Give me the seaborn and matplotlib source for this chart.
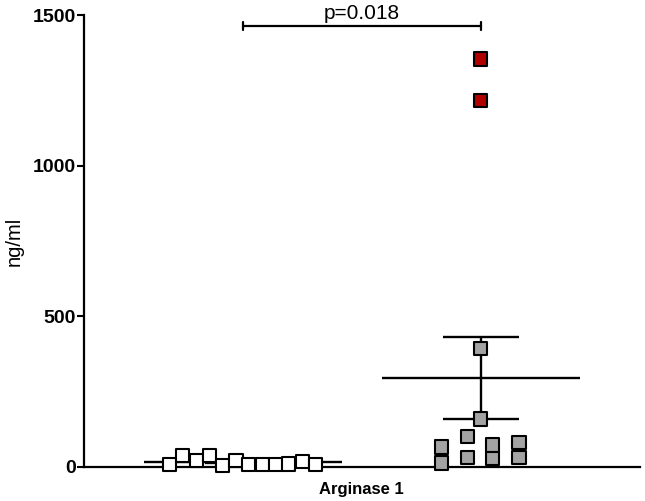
import matplotlib
matplotlib.use("Agg")
import matplotlib.pyplot as plt
import numpy as np
import pandas as pd
import seaborn as sns

# values (ng/ml)
group_names = ["control", "patients"]
control_values = [7, 37, 20, 37, 5, 20, 7, 7, 7, 10, 17, 7]
control_jitter = [-0.307, -0.252, -0.193, -0.139, -0.084, -0.029,
                  0.025, 0.084, 0.139, 0.193, 0.252, 0.307]
patient_values = [66, 13, 100, 30, 394, 159, 73, 27, 80, 30, 1354, 1215]
patient_jitter = [-0.164, -0.164, -0.055, -0.055, 0.0, 0.0,
                  0.05, 0.05, 0.16, 0.16, 0.0, 0.0]
patient_kind = ["gray"] * 10 + ["red"] * 2
p_text = "p=0.018"

sns.set_theme(style="ticks", rc={"text.color": "black", "axes.labelcolor": "black",
                                 "xtick.color": "black", "ytick.color": "black",
                                 "axes.edgecolor": "black"})
plt.rcParams["font.family"] = ["Liberation Sans", "DejaVu Sans"]

rows = []
for v, j in zip(control_values, control_jitter):
    rows.append({"x": 1 + j, "value": v, "kind": "white"})
for v, j, k in zip(patient_values, patient_jitter, patient_kind):
    rows.append({"x": 2 + j, "value": v, "kind": k})
df = pd.DataFrame(rows)

fig = plt.figure(figsize=(6.45, 5.01), dpi=100)
ax = fig.add_axes([0.130, 0.068, 0.862, 0.902])

# mean +/- SEM
for pos, vals in [(1, control_values), (2, patient_values)]:
    arr = np.asarray(vals, dtype=float)
    m = arr.mean()
    se = arr.std(ddof=1) / np.sqrt(len(arr))
    ax.hlines(m, pos - 0.416, pos + 0.416, color="black", lw=1.7, zorder=2)
    ax.vlines(pos, m - se, m + se, color="black", lw=1.7, zorder=2)
    ax.hlines([m - se, m + se], pos - 0.16, pos + 0.16, color="black", lw=1.7, zorder=2)

sns.scatterplot(
    data=df, x="x", y="value", hue="kind",
    palette={"white": "white", "gray": "#a3a3a3", "red": "#b00000"},
    marker="s", s=90, edgecolor="black", linewidth=1.5,
    legend=False, ax=ax, zorder=3, clip_on=False,
)

# significance bracket
yb = 1464
ax.plot([1, 2], [yb, yb], color="black", lw=1.6, clip_on=False)
ax.plot([1, 1], [yb - 14, yb + 14], color="black", lw=1.6, clip_on=False)
ax.plot([2, 2], [yb - 14, yb + 14], color="black", lw=1.6, clip_on=False)
ax.text(1.5, yb + 10, p_text, ha="center", va="bottom", fontsize=15)

ax.set_xlim(0.332, 2.668)
ax.set_ylim(0, 1500)
ax.set_yticks([0, 500, 1000, 1500])
ax.set_xticks([])
for lab in ax.get_yticklabels():
    lab.set_fontweight("bold")
ax.tick_params(axis="y", labelsize=14, width=1.5, length=5, pad=1)
ax.set_xlabel("Arginase 1", fontsize=12, fontweight="bold", labelpad=11)
ax.set_ylabel("ng/ml", fontsize=14.5, labelpad=6)
sns.despine(ax=ax)
for sp in ["left", "bottom"]:
    ax.spines[sp].set_linewidth(1.6)

fig.savefig("out.png", dpi=100)
